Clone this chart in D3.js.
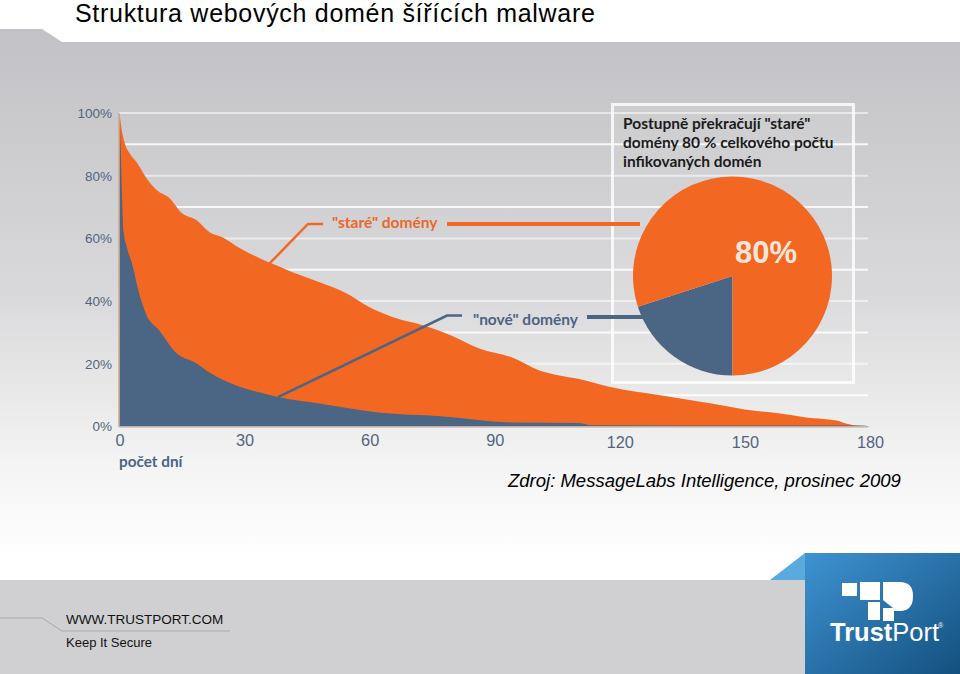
<!DOCTYPE html>
<html><head><meta charset="utf-8">
<script src="https://cdn.jsdelivr.net/npm/d3@7"></script>
<style>body{margin:0;background:#fff}svg{display:block}</style>
</head><body><svg id="c" width="960" height="674"></svg>
<script>
// ---- data ----
const stareDays  = [0,0.5,1.2,2.5,4.1,6.5,8.9,12,15,18.5,21.6,24.7,28.8,33.6,37.6,41.5,48,54.4,60,66.4,72.7,78.4,86.3,94.2,100.7,105.5,110,118,130,142,150,158,164.7,172,174,178];
const stareShare = [100,95,90.7,87,84.3,79.2,75.4,72.8,68,65.8,62,60.4,56.9,53.7,51.4,49.2,46,42.5,38,34.5,32.3,29.7,24.9,22,17.9,16.3,15.2,12.5,9.9,7.3,5.4,4.2,2.9,1.9,1,0];
const noveDays   = [0,0.3,0.6,0.9,1.8,3,4.8,6.5,9.5,13.5,18.5,21.5,28,33.5,37.5,48,62,77,94,110,113,178,180];
const noveShare  = [100,88,74,63,57,52,42,35.5,30.7,23.6,20.1,17.3,13.1,10.9,9.6,7.3,4.5,3.3,1.3,1.1,0.4,0.3,0];
const xTicks = [0,30,60,90,120,150,180];
const yTicks = [0,20,40,60,80,100];
const gridValues = [10,20,30,40,50,60,70,80,90,100];
const pieLabels = ["nové","staré"];
const pieValues = [20,80];
const titleText = "Struktura webových domén šířících malware";
const sourceText = "Zdroj: MessageLabs Intelligence, prosinec 2009";
const boxLines = ["Postupně překračují \"staré\"","domény 80 % celkového počtu","infikovaných domén"];

const ORANGE = "#f26822", BLUE = "#4b6584";
const LBL = "Lato, Open Sans";
const svg = d3.select("#c");
const defs = svg.append("defs");

// background gradient
const g1 = defs.append("linearGradient").attr("id","bg").attr("x1",0).attr("y1",0).attr("x2",0).attr("y2",1);
g1.append("stop").attr("offset","0").attr("stop-color","#c2c2c6");
g1.append("stop").attr("offset","0.5").attr("stop-color","#d9d9db");
g1.append("stop").attr("offset","0.82").attr("stop-color","#f4f4f4");
g1.append("stop").attr("offset","1").attr("stop-color","#ffffff");
svg.append("path").attr("d","M0,29 L42,29 L62,42 L960,42 L960,560 L0,560 Z").attr("fill","url(#bg)");

// footer
svg.append("rect").attr("x",0).attr("y",580).attr("width",960).attr("height",94).attr("fill","#d0d0d2");
svg.append("path").attr("d","M0,618 L42,618 L62,631 L230,631").attr("fill","none").attr("stroke","#a9a9ab").attr("stroke-width",1);
svg.append("text").attr("x",66).attr("y",624).attr("font-family","Liberation Sans, Arial").attr("font-size",13.5).attr("fill","#111").text("WWW.TRUSTPORT.COM");
svg.append("text").attr("x",66).attr("y",647).attr("font-family","Liberation Sans, Arial").attr("font-size",13).attr("fill","#111").text("Keep It Secure");

// logo
const lg = defs.append("linearGradient").attr("id","lg").attr("x1",0).attr("y1",0).attr("x2",1).attr("y2",1);
lg.append("stop").attr("offset","0").attr("stop-color","#3e93d2");
lg.append("stop").attr("offset","1").attr("stop-color","#14507f");
svg.append("path").attr("d","M805,553 L770,580 L805,580 Z").attr("fill","#5aa9df");
svg.append("rect").attr("x",805).attr("y",553).attr("width",155).attr("height",121).attr("fill","url(#lg)");
const icon = svg.append("g").attr("fill","#fff");
icon.append("path").attr("d","M842,583 L857,583 L857,596 L842,596 Z");
icon.append("path").attr("d","M860,582 L880,582 L880,600 L860,600 Z");
icon.append("path").attr("d","M868,602 L880,602 L880,620 L868,620 Z");
icon.append("path").attr("d","M883,582 L900,582 Q913,582 913,596 Q913,611 900,611 L894,611 L894,621 L883,621 Z");
icon.append("path").attr("d","M883,600 L893,608 L883,608 Z").attr("fill","#2a75b0");
const lt = svg.append("text").attr("x",830).attr("y",641).attr("font-family","Liberation Sans, Arial").attr("font-size",25.5).attr("fill","#fff");
lt.append("tspan").attr("font-weight","bold").text("Trust");
lt.append("tspan").text("Port");
svg.append("text").attr("x",938).attr("y",628).attr("font-family","Liberation Sans, Arial").attr("font-size",7).attr("fill","#fff").text("®");

// title
svg.append("text").attr("x",75).attr("y",21.5).attr("font-family","Liberation Sans, Arial").attr("font-size",25).attr("letter-spacing",0.7).attr("fill","#000").text(titleText);

// scales
const x = d3.scaleLinear().domain([0,180]).range([119.5,870]);
const y = d3.scaleLinear().domain([0,100]).range([426.5,113]);

// grid
svg.append("g").selectAll("line").data(gridValues).join("line")
  .attr("x1",119).attr("x2",868).attr("y1",d=>y(d)).attr("y2",d=>y(d))
  .attr("stroke","#fff").attr("stroke-opacity",d=>d%20===0?0.55:0.85).attr("stroke-width",2);

// areas
const stare = stareDays.map((d,i)=>[d,stareShare[i]]);
const nove = noveDays.map((d,i)=>[d,noveShare[i]]);
const area = d3.area().curve(d3.curveMonotoneX).x(d=>x(d[0])).y0(y(0)).y1(d=>y(d[1]));
svg.append("path").datum(stare).attr("d",area).attr("fill",ORANGE);
svg.append("path").datum(nove).attr("d",area).attr("fill",BLUE);

// axis lines
svg.append("line").attr("x1",119).attr("x2",119).attr("y1",113).attr("y2",427).attr("stroke","#c9a98c").attr("stroke-width",1.5);
svg.append("line").attr("x1",119).attr("x2",868).attr("y1",427).attr("y2",427).attr("stroke","#cdbfb3").attr("stroke-width",1.5);

// axes
const xa = svg.append("g").attr("transform","translate(0,433)")
  .call(d3.axisBottom(x).tickValues(xTicks).tickSize(0).tickPadding(0).tickFormat(d3.format("d")));
xa.select(".domain").remove();
xa.selectAll("text").attr("font-family","Liberation Sans, Arial").attr("font-size",16.3).attr("fill","#52647e").attr("dy",(d)=>d>=120?"0.95em":"0.8em");
const ya = svg.append("g").attr("transform","translate(112,0)")
  .call(d3.axisLeft(y).tickValues(yTicks).tickSize(0).tickPadding(0).tickFormat(d=>d+"%"));
ya.select(".domain").remove();
ya.selectAll("text").attr("font-family","Liberation Sans, Arial").attr("font-size",13.5).attr("fill","#52647e");

svg.append("text").attr("x",119).attr("y",467).attr("font-family",LBL).attr("font-weight","bold").attr("font-size",15.3).attr("fill","#4e6282").text("počet dní");

// box
svg.append("rect").attr("x",612.5).attr("y",104.5).attr("width",241).attr("height",278).attr("fill","#fff").attr("fill-opacity",0.08).attr("stroke","#fff").attr("stroke-opacity",0.8).attr("stroke-width",3);
svg.append("g").selectAll("text").data(boxLines).join("text")
  .attr("x",623).attr("y",(d,i)=>129+i*19).attr("font-family",LBL).attr("font-weight","bold").attr("font-size",15.5).attr("fill","#1b1b1b").text(d=>d);

// leaders
svg.append("polyline").attr("points",[[x(36),y(52)],[308,224],[323,224]].join(" ")).attr("fill","none").attr("stroke",ORANGE).attr("stroke-width",2.5);
svg.append("line").attr("x1",447).attr("x2",640).attr("y1",224).attr("y2",224).attr("stroke",ORANGE).attr("stroke-width",4);
svg.append("text").attr("x",332).attr("y",228).attr("font-family",LBL).attr("font-weight","bold").attr("font-size",15.5).attr("fill","#e8682a").text("\"staré\" domény");

svg.append("polyline").attr("points",[[x(38),y(9.4)],[447,315.5],[462,315.5]].join(" ")).attr("fill","none").attr("stroke",BLUE).attr("stroke-width",2.5);
svg.append("line").attr("x1",587).attr("x2",645).attr("y1",317).attr("y2",317).attr("stroke",BLUE).attr("stroke-width",4);
svg.append("text").attr("x",473).attr("y",325).attr("font-family",LBL).attr("font-weight","bold").attr("font-size",15.5).attr("fill","#4e6282").text("\"nové\" domény");

// pie
const pie = d3.pie().sort(null).startAngle(Math.PI).endAngle(3*Math.PI);
const arc = d3.arc().innerRadius(0).outerRadius(99.5);
const pg = svg.append("g").attr("transform","translate(732.5,276)");
pg.selectAll("path").data(pie(pieValues)).join("path").attr("d",arc).attr("fill",(d,i)=>i===0?BLUE:ORANGE);
svg.append("text").attr("x",766).attr("y",263).attr("text-anchor","middle").attr("font-family","Liberation Sans, Arial").attr("font-weight","bold").attr("font-size",31).attr("fill","#f3e4dc").text(pieValues[1]+"%");

// source
svg.append("text").attr("x",508).attr("y",487).attr("font-family","Liberation Sans, Arial").attr("font-style","italic").attr("font-size",18.5).attr("fill","#000").text(sourceText);
</script></body></html>
